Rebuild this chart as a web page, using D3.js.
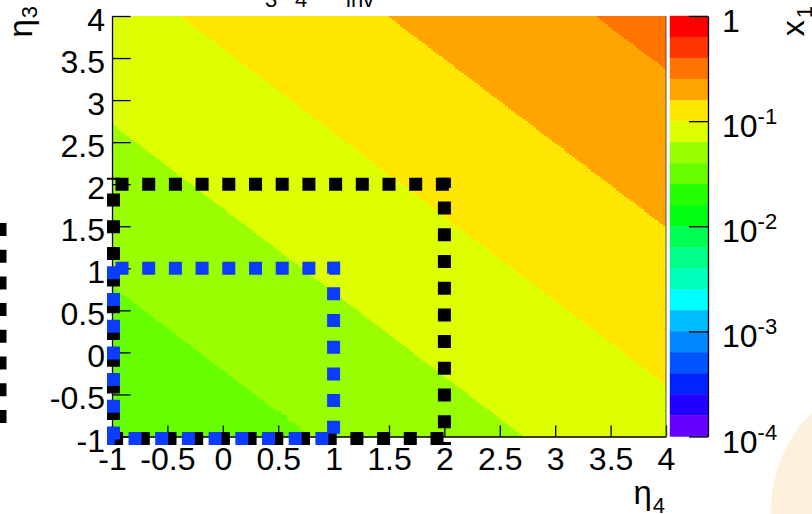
<!DOCTYPE html>
<html>
<head>
<meta charset="utf-8">
<script src="https://cdn.jsdelivr.net/npm/d3@7"></script>
<style>
  html, body { margin: 0; padding: 0; background: #ffffff; }
  svg { display: block; }
  text { font-family: "Liberation Sans", Arial, Helvetica, sans-serif; fill: #000; }
</style>
</head>
<body>
<svg id="chart" width="812" height="514"></svg>
<script>
// ---- data -------------------------------------------------------------
const etaRange = [-1, 4];
const etaBins = 200;
const xTickValues = [-1, -0.5, 0, 0.5, 1, 1.5, 2, 2.5, 3, 3.5, 4];
const yTickValues = [-1, -0.5, 0, 0.5, 1, 1.5, 2, 2.5, 3, 3.5, 4];
// eta3 + eta4 where the x1 map steps to the next colour level
const contourSums = [-0.2, 1.72, 3.62, 5.5, 7.36];
const contourColors = ["#66ff00", "#99ff00", "#ddff00", "#ffe600", "#ffa500", "#ff7300"];
// palette levels, from x1 = 1 down to x1 = 1e-4 (five per decade)
const paletteColors = [
  "#ff0000", "#ff3300", "#ff7300", "#ffa500", "#ffe600",
  "#ddff00", "#99ff00", "#66ff00", "#22ff00", "#00ff11",
  "#00ff55", "#00ff88", "#00ffbb", "#00ffff", "#00bbff",
  "#0088ff", "#0055ff", "#0022ff", "#2200ff", "#6600ff"
];
const zDecades = [0, -1, -2, -3, -4];
// acceptance windows |eta| < etaMax drawn as dashed boxes
const windowMax = [2, 1];
const windowColors = ["#000000", "#0b3cff"];
// title pieces: symbol and its subscript
const titleParts = [["η", "3"], ["η", "4"], ["M", "inv"]];

// ---- layout -----------------------------------------------------------
const plot = { left: 112, right: 666, top: 16, bottom: 436.5 };
const bar = { left: 670, right: 708 };
const dash = { width: 13, on: 13, off: 13.7 };
// first-dash distance along each side (top, right, bottom, left)
const dashPhase = [
  { top: 2, right: 17.4, bottom: -3.4, left: 9.3 },
  { top: 2, right: 19, bottom: 15, left: -2 }
];
const titleSubX = [265, 295, 346];

const svg = d3.select("#chart");

const x = d3.scaleLinear().domain(etaRange).range([plot.left, plot.right]);
const y = d3.scaleLinear().domain(etaRange).range([plot.bottom, plot.top]);
const z = d3.scaleLog().domain([1e-4, 1]).range([plot.bottom, plot.top]);

// ---- faint round shape in the lower right corner ------------------------
svg.append("circle")
  .attr("cx", 908).attr("cy", 510).attr("r", 137)
  .attr("fill", "#fdf1de");

// ---- colour map (binned, so level edges follow the bin grid) -----------
const binW = (etaRange[1] - etaRange[0]) / etaBins;
const binEdges = d3.range(etaBins + 1).map(i => etaRange[0] + i * binW);

// outline of the bins whose centre has eta4 + eta3 >= s
function levelRegion(s) {
  const pts = [];
  for (let i = 0; i < etaBins; i++) {
    const a = binEdges[i] + binW / 2;
    let j = Math.ceil((s - a - etaRange[0]) / binW - 0.5);
    j = Math.max(0, Math.min(etaBins, j));
    const b = binEdges[j];
    pts.push([binEdges[i], b], [binEdges[i + 1], b]);
  }
  pts.push([etaRange[1], etaRange[1]], [etaRange[0], etaRange[1]]);
  return pts;
}

const mapG = svg.append("g");
const fullSquare = [[etaRange[0], etaRange[0]], [etaRange[1], etaRange[0]],
                    [etaRange[1], etaRange[1]], [etaRange[0], etaRange[1]]];
const bands = [fullSquare].concat(contourSums.map(levelRegion));
mapG.selectAll("path.band")
  .data(bands)
  .join("path")
  .attr("class", "band")
  .attr("d", poly => d3.line().x(p => x(p[0])).y(p => y(p[1]))(poly) + "Z")
  .attr("fill", (d, i) => contourColors[i])
  .attr("shape-rendering", "crispEdges");

// ---- axes ---------------------------------------------------------------
const fmt = d => String(d);
const minorX = d3.range(-10, 41).map(v => v / 10).filter(v => Math.abs(v * 2 - Math.round(v * 2)) > 1e-6);

const xAxisG = svg.append("g").attr("transform", `translate(0,${plot.bottom})`);
xAxisG.call(d3.axisBottom(x).tickValues(minorX).tickSize(-5.5).tickSizeOuter(0).tickFormat(""));
xAxisG.call(d3.axisBottom(x).tickValues(xTickValues).tickSize(-11).tickSizeOuter(0)
  .tickPadding(11).tickFormat(fmt));

const yAxisG = svg.append("g").attr("transform", `translate(${plot.left},0)`);
yAxisG.call(d3.axisLeft(y).tickValues(minorX).tickSize(-9.3).tickSizeOuter(0).tickFormat(""));
yAxisG.call(d3.axisLeft(y).tickValues(yTickValues).tickSize(-18.7).tickSizeOuter(0)
  .tickPadding(7).tickFormat(fmt));

[xAxisG, yAxisG].forEach(g => {
  g.selectAll(".domain").attr("stroke", "#000").attr("stroke-width", 1.3);
  g.selectAll(".tick line").attr("stroke", "#000").attr("stroke-width", 1.3);
  g.selectAll("text").attr("font-size", 32).attr("font-family", null);
});
yAxisG.selectAll("text").attr("dy", null).attr("y", 14.5);

// frame line on the right
svg.append("line")
  .attr("x1", plot.right).attr("x2", plot.right)
  .attr("y1", plot.top).attr("y2", plot.bottom)
  .attr("stroke", "#555").attr("stroke-width", 1);

// ---- dashed acceptance boxes ------------------------------------------
const boxG = svg.append("g");
windowMax.forEach((m, i) => {
  const x0 = x(etaRange[0]) + 1.5, x1 = x(m);
  const y0 = y(m), y1 = y(etaRange[0]) + 2;
  const ext = dash.width / 2;
  const ph = dashPhase[i];
  const sides = [
    { p: [[x0 - ext, y0], [x1 + ext, y0]], s: ph.top + ext },
    { p: [[x1, y0 - ext], [x1, y1 + ext]], s: ph.right + ext },
    { p: [[x0 - ext, y1], [x1 + ext, y1]], s: ph.bottom + ext },
    { p: [[x0, y0 - ext], [x0, y1 + ext]], s: ph.left + ext }
  ];
  sides.forEach(sd => {
    boxG.append("path")
      .attr("d", d3.line()(sd.p))
      .attr("fill", "none")
      .attr("stroke", windowColors[i])
      .attr("stroke-width", dash.width)
      .attr("stroke-dasharray", `${dash.on} ${dash.off}`)
      .attr("stroke-dashoffset", -sd.s);
  });
});

// edge of the neighbouring panel's dashed box
svg.append("path")
  .attr("d", d3.line()([[0, 223], [0, 423]]))
  .attr("fill", "none").attr("stroke", "#000")
  .attr("stroke-width", dash.width)
  .attr("stroke-dasharray", `${dash.on} ${dash.off}`);

// ---- palette bar --------------------------------------------------------
const barG = svg.append("g");
barG.selectAll("rect")
  .data(paletteColors)
  .join("rect")
  .attr("x", bar.left)
  .attr("width", bar.right - bar.left)
  .attr("y", (d, i) => z(Math.pow(10, -0.2 * i)))
  .attr("height", (d, i) => z(Math.pow(10, -0.2 * (i + 1))) - z(Math.pow(10, -0.2 * i)))
  .attr("fill", d => d)
  .attr("stroke", d => d).attr("stroke-width", 0.4);

const zMinor = [];
zDecades.slice(1).forEach(e => { for (let k = 2; k <= 9; k++) zMinor.push(k * Math.pow(10, e)); });
const zAxisG = barG.append("g").attr("transform", `translate(${bar.right},0)`);
zAxisG.call(d3.axisRight(z).tickValues(zMinor).tickSize(-9).tickSizeOuter(0).tickFormat(""));
zAxisG.call(d3.axisRight(z).tickValues(zDecades.map(e => Math.pow(10, e))).tickSize(-19)
  .tickSizeOuter(0).tickPadding(14).tickFormat(""));
zAxisG.selectAll(".domain").attr("stroke", "#000").attr("stroke-width", 1.3);
zAxisG.selectAll(".tick line").attr("stroke", "#000").attr("stroke-width", 1.3);

const zLabels = barG.selectAll("text.zlab")
  .data(zDecades)
  .join("text")
  .attr("class", "zlab")
  .attr("x", bar.right + 14)
  .attr("y", e => z(Math.pow(10, e)) + 16)
  .attr("font-size", 32);
zLabels.each(function (e) {
  const t = d3.select(this);
  if (e === 0) { t.text("1"); return; }
  t.append("tspan").text("10");
  t.append("tspan").attr("dy", -13).attr("font-size", 22).text(String(e));
});

// ---- titles -------------------------------------------------------------
const yTitle = svg.append("text")
  .attr("transform", "translate(32,6) rotate(-90)")
  .attr("text-anchor", "end").attr("font-size", 33);
yTitle.append("tspan").text("η");
yTitle.append("tspan").attr("dx", 1).attr("dy", 5).attr("font-size", 22).text("3");

const xTitle = svg.append("text")
  .attr("x", plot.right - 1).attr("y", 504)
  .attr("text-anchor", "end").attr("font-size", 33);
xTitle.append("tspan").text("η");
xTitle.append("tspan").attr("dx", 1).attr("dy", 9).attr("font-size", 22).text("4");

const zTitle = svg.append("text")
  .attr("transform", "translate(804,6) rotate(-90)")
  .attr("text-anchor", "end").attr("font-size", 32);
zTitle.append("tspan").text("x");
zTitle.append("tspan").attr("dx", 2).attr("dy", 8).attr("font-size", 22).text("1");

// plot title: its main line sits above the top edge, only the subscripts reach into view
const titleG = svg.append("g");
titleParts.forEach(([sym, sub], k) => {
  titleG.append("text").attr("x", titleSubX[k]).attr("y", -14)
    .attr("text-anchor", "end").attr("font-size", 32).text(sym);
  titleG.append("text").attr("x", titleSubX[k]).attr("y", 7)
    .attr("font-size", 22).text(sub);
});
</script>
</body>
</html>
